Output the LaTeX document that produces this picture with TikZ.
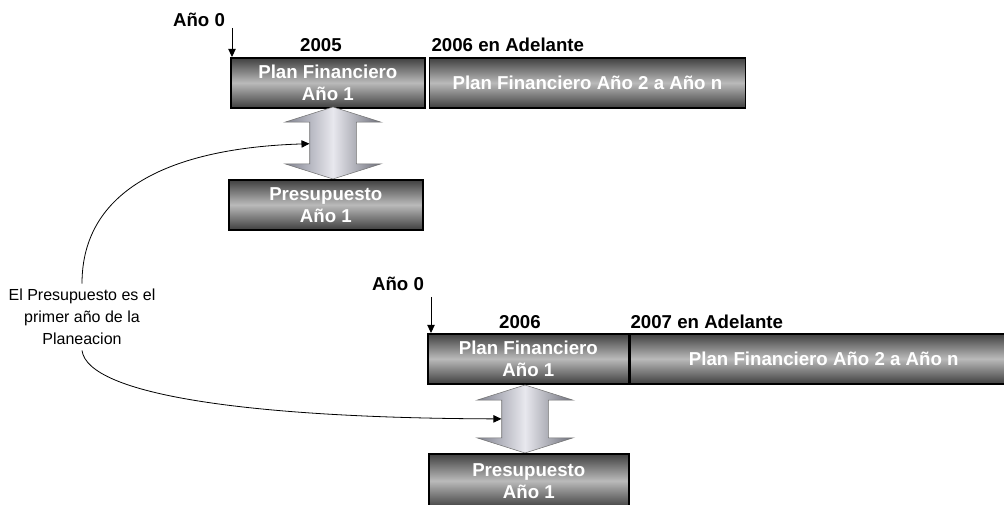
\documentclass[tikz,border=0pt]{standalone}
\usepackage{fontspec}
\setmainfont{Liberation Sans}
\usepackage{tikz}
\usepackage{xcolor}
\usetikzlibrary{arrows.meta, shapes.arrows, positioning}

\definecolor{arrowside}{HTML}{80828F}
\definecolor{arrowmid}{HTML}{E8E8EE}

\begin{document}
\begin{tikzpicture}[x=0.75pt, y=-0.75pt, node distance=2.25pt,
    finbox/.style={draw=black, line width=1.2pt, top color=black!75, bottom color=black!75, middle color=black!27,
        text=white, align=center, font=\bfseries\fontsize{14}{16.5}\selectfont, minimum height=37.5pt, inner sep=0pt},
    yearlbl/.style={font=\bfseries\fontsize{14}{16}\selectfont, inner sep=1pt},
    updown/.style={double arrow, shape border rotate=90, draw=black!55, thin, left color=arrowside, right color=arrowside!85!black,
        middle color=arrowmid, minimum width=72pt, double arrow head extend=18.75pt, double arrow tip angle=145,
        inner xsep=17.25pt, inner ysep=0pt},
    nota/.style={align=center, font=\fontsize{12}{16.5}\selectfont, inner sep=4pt}]
    \path[use as bounding box, fill=white] (0,0) rectangle (1004,505);

    % Nodes
    \node[finbox, anchor=north west, minimum width=145.5pt] (plan1) at (230,57) {Plan Financiero\\Año 1};
    \node[finbox, right=of plan1, minimum width=237pt] (resto1) {Plan Financiero Año 2 a Año n};
    \node[updown, minimum height=54pt] (dbl1) at (333,143) {};
    \node[finbox, anchor=north west, minimum width=145.5pt] (pres1) at (228,179) {Presupuesto\\Año 1};

    \node[finbox, anchor=north west, minimum width=150.75pt] (plan2) at (427,333) {Plan Financiero\\Año 1};
    \node[finbox, right=0pt of plan2, minimum width=290pt] (resto2) {Plan Financiero Año 2 a Año n};
    \node[updown, minimum height=51pt] (dbl2) at (525,419) {};
    \node[finbox, anchor=north west, minimum width=150pt, minimum height=40.5pt] (pres2) at (428,453) {Presupuesto\\Año 1};

    \node[nota] (nota) at (82,317) {El Presupuesto es el\\primer año de la\\Planeacion};

    % Labels
    \node[yearlbl] (ano1) at (199,20) {Año 0};
    \node[yearlbl] (yr1) at (321,45) {2005};
    \node[yearlbl, anchor=west] (sig1) at (430,45) {2006 en Adelante};
    \node[yearlbl] (ano2) at (398,284) {Año 0};
    \node[yearlbl] (yr2) at (520,322) {2006};
    \node[yearlbl, anchor=west] (sig2) at (629,322) {2007 en Adelante};
    \coordinate (ini1) at (232,28);
    \coordinate (ini2) at (431,297);

    % Edges
    \draw[->, line width=0.7pt, >={Triangle[length=6pt, width=5.5pt]}] (ini1) -- (ini1 |- plan1.north);
    \draw[->, line width=0.7pt, >={Triangle[length=6pt, width=5.5pt]}] (ini2) -- (ini2 |- plan2.north);
    \draw[->, line width=0.6pt, >={Triangle[length=6pt, width=5.5pt]}] (nota.north) .. controls (82,190) and (170,148) .. (dbl1);
    \draw[->, line width=0.6pt, >={Triangle[length=6pt, width=5.5pt]}] (nota.south) .. controls (88,395) and (250,418) .. (dbl2);
\end{tikzpicture}
\end{document}
